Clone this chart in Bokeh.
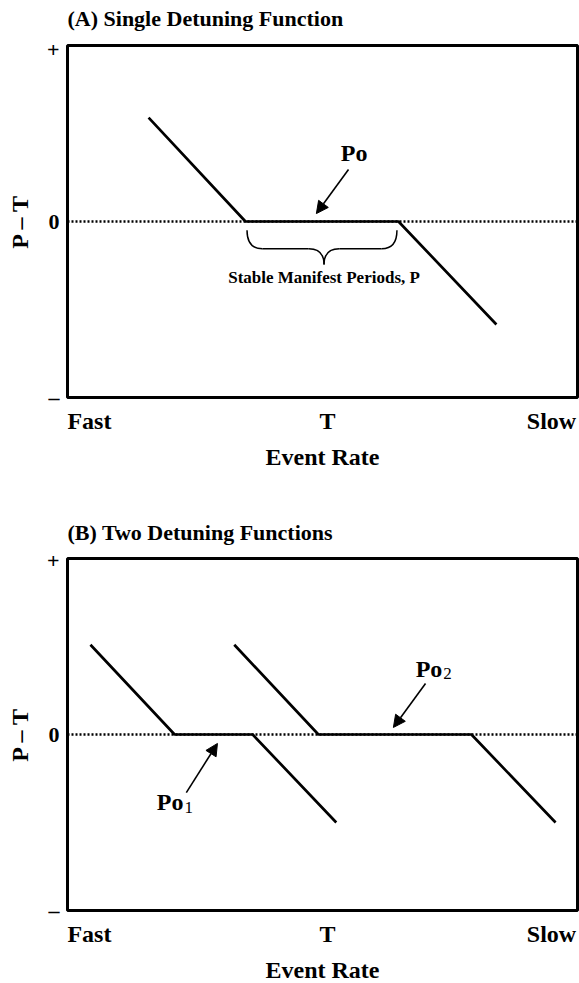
from bokeh.plotting import figure
from bokeh.layouts import column
from bokeh.models import Span, Arrow, NormalHead, Label, FixedTicker, Range1d
from bokeh.core.properties import value
from bokeh.embed import file_html
from bokeh.resources import INLINE

# ---------------- data ----------------
x_tick_labels = ["Fast", "T", "Slow"]
y_tick_labels = ["–", "0", "+"]
x_axis_label = "Event Rate"
y_axis_label = "P – T"

# Panel A: single detuning function
a_x = [15.9, 34.9, 64.9, 84.1]
a_y = [0.59, 0.0, 0.0, -0.585]

# Panel B: two detuning functions
b1_x = [4.5, 21.0, 36.3, 52.7]
b1_y = [0.51, 0.0, 0.0, -0.50]
b2_x = [32.7, 49.2, 79.2, 95.7]
b2_y = [0.51, 0.0, 0.0, -0.50]

# annotation texts
title_a = "(A) Single Detuning Function"
title_b = "(B) Two Detuning Functions"
brace_text = "Stable Manifest Periods, P"

FONT = "Liberation Serif"
X_TICKS = [4.3, 51.0, 94.9]
Y_TICKS = [-1, 0, 1]


def title_fig(text, height, center):
    """A thin strip holding a panel title, left-aligned with the plot frame."""
    t = figure(frame_width=510, frame_height=height, x_range=Range1d(0, 510),
               y_range=Range1d(height, 0), min_border=0,
               min_border_left=67, min_border_right=2,
               x_axis_type=None, y_axis_type=None,
               output_backend="svg", toolbar_location=None)
    t.xgrid.visible = False
    t.ygrid.visible = False
    t.outline_line_color = None
    t.text(x=[0], y=[center], text=[text], text_align="left", text_baseline="middle",
           text_font=value(FONT), text_font_size="22px", text_font_style="bold",
           text_color="black")
    return t


def make_fig(top, bottom):
    p = figure(frame_width=510, frame_height=352,
               x_range=Range1d(0, 100), y_range=Range1d(-1, 1),
               min_border_left=67, min_border_right=2,
               min_border_top=top, min_border_bottom=bottom,
               output_backend="svg", toolbar_location=None)
    p.xgrid.visible = False
    p.ygrid.visible = False
    p.outline_line_color = "black"
    p.outline_line_width = 3
    p.outline_line_alpha = 1
    p.background_fill_color = "white"
    p.border_fill_color = "white"

    for ax in (p.xaxis[0], p.yaxis[0]):
        ax.axis_line_color = None
        ax.major_tick_line_color = None
        ax.minor_tick_line_color = None
        ax.major_tick_out = 0
        ax.major_tick_in = 0
        ax.major_label_text_font = FONT
        ax.major_label_text_font_style = "bold"
        ax.major_label_text_color = "black"
        ax.axis_label_text_font = FONT
        ax.axis_label_text_font_size = "24px"
        ax.axis_label_text_font_style = "bold"
        ax.axis_label_text_color = "black"

    p.xaxis.ticker = FixedTicker(ticks=X_TICKS)
    p.xaxis.major_label_overrides = {t: s for t, s in zip(X_TICKS, x_tick_labels)}
    p.xaxis.major_label_text_font_size = "24px"
    p.xaxis.axis_label = x_axis_label
    p.xaxis.major_label_standoff = 10
    p.xaxis.axis_label_standoff = 7

    p.yaxis.ticker = FixedTicker(ticks=Y_TICKS)
    p.yaxis.major_label_overrides = {t: s for t, s in zip(Y_TICKS, y_tick_labels)}
    p.yaxis.major_label_text_font_size = "22px"
    p.yaxis.axis_label = y_axis_label
    p.yaxis.major_label_standoff = 8
    p.yaxis.axis_label_standoff = 11
    p.yaxis.major_label_orientation = "horizontal"

    p.add_layout(Span(location=0, dimension="width", line_color="black",
                      line_width=2.5, line_dash="2 2"))
    return p


def po_label(p, x, y, sub=None, sub_dy=0.0):
    p.add_layout(Label(x=x, y=y, text="Po", text_align="right" if sub else "center",
                       text_baseline="middle", text_font=FONT, text_font_size="24px",
                       text_font_style="bold", text_color="black"))
    if sub:
        p.add_layout(Label(x=x, y=y + sub_dy, text=sub, text_align="left", x_offset=1,
                           text_baseline="middle", text_font=FONT, text_font_size="17px",
                           text_font_style="normal", text_color="black"))


def arrow(p, xs, ys, xe, ye):
    p.add_layout(Arrow(end=NormalHead(size=12, fill_color="black", line_color="black"),
                       x_start=xs, y_start=ys, x_end=xe, y_end=ye,
                       line_color="black", line_width=1.6))


# ---------------- Panel A ----------------
ta = title_fig(title_a, 36, 18)
pa = make_fig(9, 90)
pa.line(a_x, a_y, line_color="black", line_width=2.7)
po_label(pa, 56.2, 0.389)
arrow(pa, 55.1, 0.295, 48.8, 0.045)

# brace under the plateau
x0, x1 = a_x[1] + 0.3, a_x[2] - 0.3
xc = (a_x[1] + a_x[2]) / 2 + 0.4
ytop, yh, ytip = -0.05, -0.155, -0.245
r = 3.0
pa.quadratic(x0=[x0, x1], y0=[ytop, ytop], x1=[x0 + r, x1 - r], y1=[yh, yh],
             cx=[x0, x1], cy=[yh, yh], line_color="black", line_width=1.5)
pa.segment(x0=[x0 + r, xc + r], y0=[yh, yh], x1=[xc - r, x1 - r], y1=[yh, yh],
           line_color="black", line_width=1.5)
pa.quadratic(x0=[xc - r, xc + r], y0=[yh, yh], x1=[xc, xc], y1=[ytip, ytip],
             cx=[xc, xc], cy=[yh, yh], line_color="black", line_width=1.5)
pa.add_layout(Label(x=xc, y=-0.318, text=brace_text, text_align="center",
                    text_baseline="middle", text_font=FONT, text_font_size="17px",
                    text_font_style="bold", text_color="black"))

# ---------------- Panel B ----------------
tb = title_fig(title_b, 60, 45)
pb = make_fig(11, 72)
pb.line(b1_x, b1_y, line_color="black", line_width=2.7)
pb.line(b2_x, b2_y, line_color="black", line_width=2.7)
po_label(pb, 22.75, -0.386, sub="1", sub_dy=-0.03)
arrow(pb, 23.3, -0.33, 29.4, -0.051)
po_label(pb, 73.5, 0.375, sub="2", sub_dy=-0.03)
arrow(pb, 70.2, 0.290, 63.9, 0.040)

layout = column(ta, pa, tb, pb, spacing=0)
open("out.html", "w").write(file_html(layout, INLINE))
